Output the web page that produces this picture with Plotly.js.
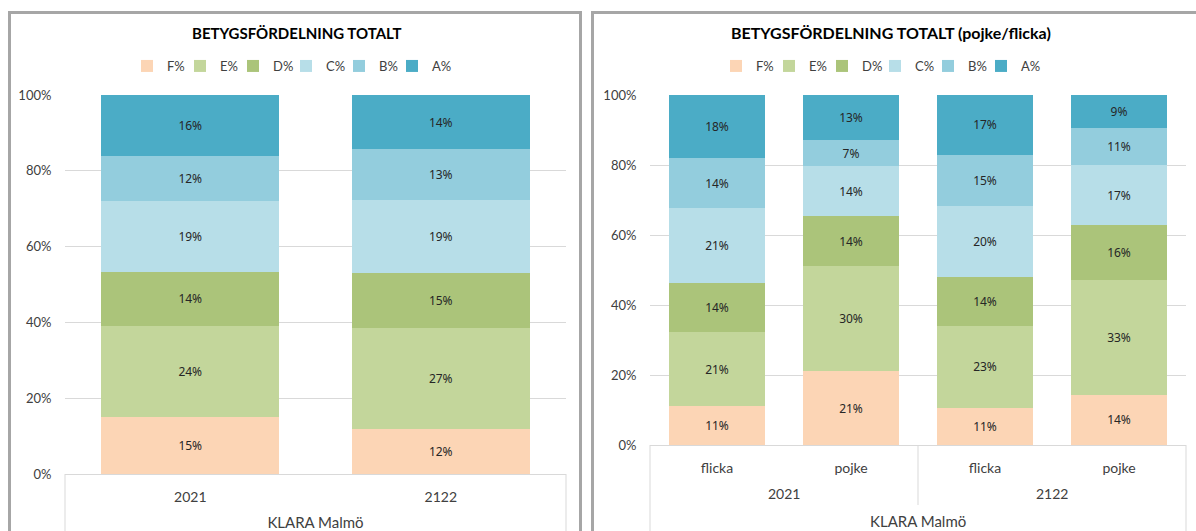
<!DOCTYPE html>
<html>
<head>
<meta charset="utf-8">
<script src="https://cdn.plot.ly/plotly-3.0.1.min.js"></script>
<style>
html,body{margin:0;padding:0;background:#fff;}
#chart{width:1196px;height:531px;}
</style>
</head>
<body>
<div id="chart"></div>
<script>
// ---- DATA ----
const grades = ['F%', 'E%', 'D%', 'C%', 'B%', 'A%'];
const totalYears = ['2021', '2122'];
const totalF = [15.0, 11.9];
const totalE = [24.0, 26.6];
const totalD = [14.4, 14.6];
const totalC = [18.6, 19.2];
const totalB = [11.9, 13.4];
const totalA = [16.1, 14.3];

const genderYears = ['2021', '2021', '2122', '2122'];
const genders = ['flicka', 'pojke', 'flicka', 'pojke'];
const genderF = [11.1, 21.1, 10.6, 14.3];
const genderE = [21.2, 30.0, 23.4, 32.8];
const genderD = [14.0, 14.3, 14.0, 15.7];
const genderC = [21.4, 14.3, 20.3, 17.1];
const genderB = [14.3, 7.4, 14.6, 10.6];
const genderA = [18.0, 12.9, 17.1, 9.4];

const titleLeft = 'BETYGSFÖRDELNING TOTALT';
const titleRight = 'BETYGSFÖRDELNING TOTALT (pojke/flicka)';
const groupLabel = 'KLARA Malmö';

// ---- STYLE ----
const colors = ['#FCD5B5', '#C3D69B', '#ABC47A', '#B7DEE8', '#93CDDD', '#4BACC6'];
const W = 1196, H = 531;
const px = v => v / W;
const py = v => 1 - v / H;
const fam = 'Lato, "DejaVu Sans", sans-serif';
const axisFont = {family: fam, size: 13, color: '#404040'};
const catFont = {family: fam, size: 14, color: '#404040'};
const groupFont = {family: fam, size: 15, color: '#404040'};
const labelFont = {family: '"Noto Sans", "Open Sans", sans-serif', size: 12, color: '#262626'};

const totalSeries = [totalF, totalE, totalD, totalC, totalB, totalA];
const genderSeries = [genderF, genderE, genderD, genderC, genderB, genderA];
const genderIdx = genders.map((_, i) => i);

const traces = [];
grades.forEach((g, i) => {
  traces.push({
    type: 'bar', name: g, x: totalYears, y: totalSeries[i],
    xaxis: 'x', yaxis: 'y', legend: 'legend',
    marker: {color: colors[i], line: {width: 0}},
    texttemplate: '%{y:.0f}%', textposition: 'inside', insidetextanchor: 'middle',
    textfont: labelFont, constraintext: 'none', hoverinfo: 'name+y'
  });
});
grades.forEach((g, i) => {
  traces.push({
    type: 'bar', name: g, x: genderIdx, y: genderSeries[i],
    xaxis: 'x2', yaxis: 'y2', legend: 'legend2',
    marker: {color: colors[i], line: {width: 0}},
    texttemplate: '%{y:.0f}%', textposition: 'inside', insidetextanchor: 'middle',
    textfont: labelFont, constraintext: 'none', hoverinfo: 'name+y'
  });
});

const leftX = [px(65), px(566)];
const rightX = [px(650), px(1186)];
const leftY = [py(474), py(95)];
const rightY = [py(445), py(95)];

const yCommon = {
  range: [0, 100], dtick: 20, ticksuffix: '%', showgrid: true, gridcolor: '#d9d9d9', gridwidth: 1,
  zeroline: false, showline: false, ticks: 'outside', ticklen: 10, tickcolor: 'rgba(0,0,0,0)',
  tickfont: axisFont, fixedrange: true
};

const legendCommon = {
  orientation: 'h', xanchor: 'center', yanchor: 'middle', y: py(66),
  font: {family: fam, size: 13, color: '#404040'},
  traceorder: 'normal', bgcolor: 'rgba(0,0,0,0)', entrywidth: 8, itemclick: false
};

const boxLine = {color: '#d9d9d9', width: 1};
const shapes = [
  // panel frames
  {type: 'rect', xref: 'paper', yref: 'paper', x0: px(9.5), x1: px(580.5), y0: py(540), y1: py(12.5),
   line: {color: '#a6a6a6', width: 3}},
  {type: 'rect', xref: 'paper', yref: 'paper', x0: px(592.5), x1: px(1210), y0: py(540), y1: py(12.5),
   line: {color: '#a6a6a6', width: 3}},
  // category-axis boxes
  {type: 'line', xref: 'paper', yref: 'paper', x0: leftX[0], x1: leftX[0], y0: leftY[0], y1: -0.02, line: boxLine},
  {type: 'line', xref: 'paper', yref: 'paper', x0: leftX[1], x1: leftX[1], y0: leftY[0], y1: -0.02, line: boxLine},
  {type: 'line', xref: 'paper', yref: 'paper', x0: rightX[0], x1: rightX[0], y0: rightY[0], y1: -0.02, line: boxLine},
  {type: 'line', xref: 'paper', yref: 'paper', x0: rightX[1], x1: rightX[1], y0: rightY[0], y1: -0.02, line: boxLine}
];

// year group labels and dividers for the right chart
const uniqueYears = [...new Set(genderYears)];
const annotations = [
  {text: '<b>' + titleLeft + '</b>', xref: 'paper', yref: 'paper', x: px(297), y: py(33),
   showarrow: false, xanchor: 'center', yanchor: 'middle',
   font: {family: fam, size: 15, color: '#000000'}},
  {text: '<b>' + titleRight + '</b>', xref: 'paper', yref: 'paper', x: px(891), y: py(33),
   showarrow: false, xanchor: 'center', yanchor: 'middle',
   font: {family: fam, size: 16, color: '#000000'}},
  {text: groupLabel, xref: 'x2', yref: 'paper', x: (genderIdx.length - 1) / 2, y: py(521),
   showarrow: false, xanchor: 'center', yanchor: 'middle', font: groupFont}
];
uniqueYears.forEach((yr, k) => {
  const idx = genderIdx.filter(i => genderYears[i] === yr);
  const mid = (idx[0] + idx[idx.length - 1]) / 2;
  annotations.push({text: yr, xref: 'x2', yref: 'paper', x: mid, y: py(493),
    showarrow: false, xanchor: 'center', yanchor: 'middle', font: catFont});
  if (k > 0) {
    const b = idx[0] - 0.5;
    shapes.push({type: 'line', xref: 'x2', yref: 'paper', x0: b, x1: b, y0: rightY[0], y1: py(505), line: boxLine});
  }
});

const layout = {
  width: W, height: H,
  margin: {l: 0, r: 0, t: 0, b: 0},
  paper_bgcolor: '#ffffff', plot_bgcolor: 'rgba(0,0,0,0)',
  barmode: 'stack', bargap: 0.29,
  showlegend: true,
  xaxis: {
    domain: leftX, anchor: 'y', type: 'category', tickfont: catFont,
    showline: true, linecolor: '#d9d9d9', linewidth: 1, ticks: '', ticklabelstandoff: 10,
    title: {text: groupLabel, font: groupFont, standoff: 15}, fixedrange: true
  },
  yaxis: Object.assign({domain: leftY, anchor: 'x'}, yCommon),
  xaxis2: {
    domain: rightX, anchor: 'y2', type: 'linear', range: [-0.5, genderIdx.length - 0.5],
    tickvals: genderIdx, ticktext: genders, tickfont: catFont, showgrid: false, zeroline: false,
    showline: true, linecolor: '#d9d9d9', linewidth: 1, ticks: '', ticklabelstandoff: 10,
    fixedrange: true
  },
  yaxis2: Object.assign({domain: rightY, anchor: 'x2'}, yCommon),
  legend: Object.assign({x: px(286)}, legendCommon),
  legend2: Object.assign({x: px(875)}, legendCommon),
  annotations: annotations,
  shapes: shapes
};

function unclipLegends(gd) {
  gd.querySelectorAll('g.legend, g.legend2, g.scrollbox, g.infolayer g[class^="legend"]').forEach(el => {
    el.removeAttribute('clip-path');
    el.style.clipPath = '';
  });
}

Plotly.newPlot('chart', traces, layout, {displayModeBar: false, staticPlot: true}).then(gd => {
  unclipLegends(gd);
  gd.on('plotly_afterplot', () => unclipLegends(gd));
});
</script>
</body>
</html>
